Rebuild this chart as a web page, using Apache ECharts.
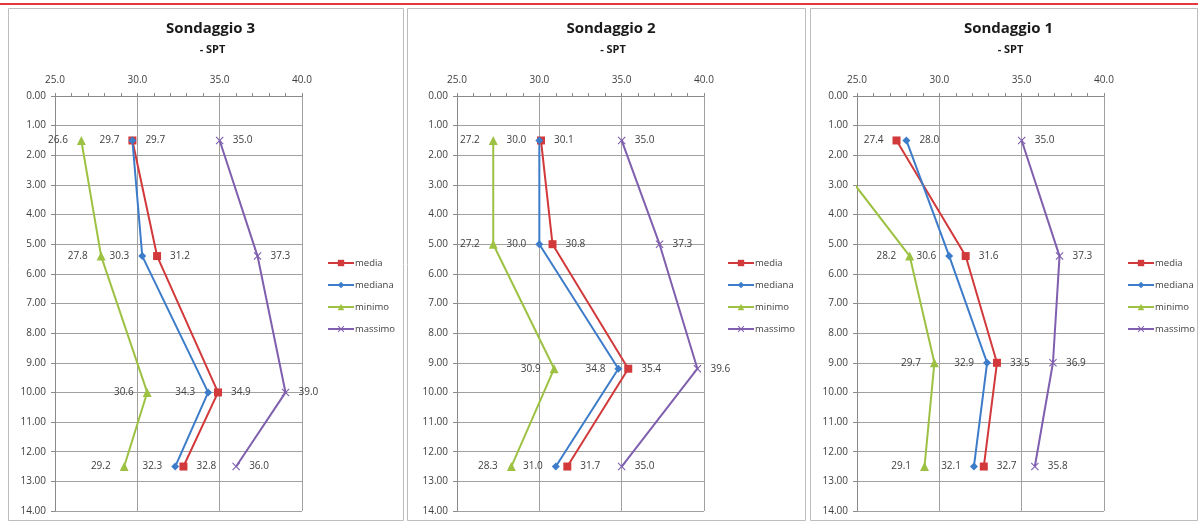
<!DOCTYPE html>
<html>
<head>
<meta charset="utf-8">
<script src="https://cdn.jsdelivr.net/npm/echarts@6/dist/echarts.min.js"></script>
<style>
html,body{margin:0;padding:0;background:#fff;}
#c{width:1198px;height:521px;}
</style>
</head>
<body>
<div id="c"></div>
<script>
// ---- data ----
var titles = ['Sondaggio 3', 'Sondaggio 2', 'Sondaggio 1'];
var subtitle = '- SPT';
var seriesNames = ['media', 'mediana', 'minimo', 'massimo'];

var depth3 = [1.5, 5.4, 10.0, 12.5];
var media3 = [29.7, 31.2, 34.9, 32.8];
var mediana3 = [29.7, 30.3, 34.3, 32.3];
var minimo3 = [26.6, 27.8, 30.6, 29.2];
var massimo3 = [35.0, 37.3, 39.0, 36.0];

var depth2 = [1.5, 5.0, 9.2, 12.5];
var media2 = [30.1, 30.8, 35.4, 31.7];
var mediana2 = [30.0, 30.0, 34.8, 31.0];
var minimo2 = [27.2, 27.2, 30.9, 28.3];
var massimo2 = [35.0, 37.3, 39.6, 35.0];

var depth1 = [1.5, 5.4, 9.0, 12.5];
var media1 = [27.4, 31.6, 33.5, 32.7];
var mediana1 = [28.0, 30.6, 32.9, 32.1];
var minimo1 = [22.8, 28.2, 29.7, 29.1];
var massimo1 = [35.0, 37.3, 36.9, 35.8];

var xTicks = [25, 30, 35, 40];
var yMin = 0, yMax = 14;

// ---- build ----
var panels = [
  {depth: depth3, vals: [media3, mediana3, minimo3, massimo3], gridLeft: 55, legendLeft: 322, box: [8, 403]},
  {depth: depth2, vals: [media2, mediana2, minimo2, massimo2], gridLeft: 457, legendLeft: 722, box: [407, 805]},
  {depth: depth1, vals: [media1, mediana1, minimo1, massimo1], gridLeft: 857, legendLeft: 1122, box: [810, 1197]}
];
var colors = ['#D2393A', '#3D7CC9', '#9DC243', '#7F5FAE'];
var xPath = 'path://M0,1 L1,0 L5,4 L9,0 L10,1 L6,5 L10,9 L9,10 L5,6 L1,10 L0,9 L4,5 Z';
var symbols = ['rect', 'diamond', 'triangle', xPath];
var symbolSizes = [8, 8, 9, 8];
var labelPos = ['right', 'left', 'left', 'right'];

var plotW = 247;
var grids = [], xAxes = [], yAxes = [], series = [], legends = [], titlesArr = [], graphics = [];

graphics.push({type: 'rect', shape: {x: 0, y: 3, width: 1198, height: 2}, style: {fill: '#E8383B'}, silent: true});

panels.forEach(function (p, i) {
  graphics.push({type: 'rect', shape: {x: p.box[0] + 0.5, y: 8.5, width: p.box[1] - p.box[0], height: 512}, style: {fill: 'none', stroke: '#BDBDBD', lineWidth: 1}, silent: true});
  var cx = (p.box[0] + p.box[1]) / 2;
  titlesArr.push({
    text: titles[i], left: cx, top: 16, textAlign: 'center',
    textStyle: {fontFamily: 'Open Sans', fontSize: 15, fontWeight: 'bold', color: '#1a1a1a'}
  });
  titlesArr.push({
    text: subtitle, left: cx + 2, top: 39, textAlign: 'center',
    textStyle: {fontFamily: 'Open Sans', fontSize: 11, fontWeight: 'bold', color: '#1a1a1a'}
  });
  grids.push({left: p.gridLeft, top: 96, width: plotW, height: 415});
  xAxes.push({
    type: 'value', gridIndex: i, position: 'top', min: 25, max: 40, interval: 5,
    axisLine: {show: true, lineStyle: {color: '#8a8a8a'}},
    axisTick: {show: true, length: 3, inside: false, lineStyle: {color: '#8a8a8a'}},
    minorTick: {show: true, splitNumber: 5, length: 3, lineStyle: {color: '#8a8a8a'}},
    splitLine: {show: true, lineStyle: {color: '#A0A0A0', width: 1}},
    axisLabel: {formatter: function (v) { return v.toFixed(1); }, fontFamily: 'Open Sans', fontSize: 10, color: '#404040', margin: 11}
  });
  yAxes.push({
    type: 'value', gridIndex: i, inverse: true, min: yMin, max: yMax, interval: 1,
    axisLine: {show: true, lineStyle: {color: '#8a8a8a'}},
    axisTick: {show: true, length: 4, lineStyle: {color: '#8a8a8a'}},
    splitLine: {show: true, lineStyle: {color: '#A0A0A0', width: 1}},
    axisLabel: {formatter: function (v) { return v.toFixed(2); }, fontFamily: 'Open Sans', fontSize: 10, color: '#404040', margin: 9}
  });
  seriesNames.forEach(function (name, k) {
    var data = p.vals[k].map(function (v, j) {
      var d = {value: [v, p.depth[j]]};
      var pos = labelPos[k];
      if (i === 2 && j === 0 && k === 0) pos = 'left';
      if (i === 2 && j === 0 && k === 1) pos = 'right';
      d.label = {position: pos};
      if (v < 25) { d.label = {show: false}; d.symbol = 'none'; }
      return d;
    });
    series.push({
      name: name, type: 'line', xAxisIndex: i, yAxisIndex: i, data: data,
      clip: true, symbol: symbols[k], symbolSize: symbolSizes[k], showAllSymbol: true,
      lineStyle: {color: colors[k], width: 2},
      itemStyle: {color: colors[k]},
      label: {
        show: true, distance: 9, fontFamily: 'Open Sans', fontSize: 10, color: '#404040',
        formatter: function (pr) { return pr.value[0].toFixed(1); }
      },
      emphasis: {disabled: true},
      animation: false
    });
  });
  legends.push({
    orient: 'vertical', left: p.legendLeft, top: 253, itemWidth: 26, itemHeight: 8, itemGap: 12,
    data: seriesNames,
    textStyle: {fontFamily: 'Open Sans', fontSize: 9.5, color: '#404040', padding: [0, 0, 0, -4]},
    selectedMode: false
  });
});

var chart = echarts.init(document.getElementById('c'), null, {renderer: 'canvas'});
chart.setOption({
  backgroundColor: '#fff',
  animation: false,
  title: titlesArr,
  grid: grids,
  xAxis: xAxes,
  yAxis: yAxes,
  legend: legends,
  series: series,
  graphic: graphics
});
</script>
</body>
</html>
